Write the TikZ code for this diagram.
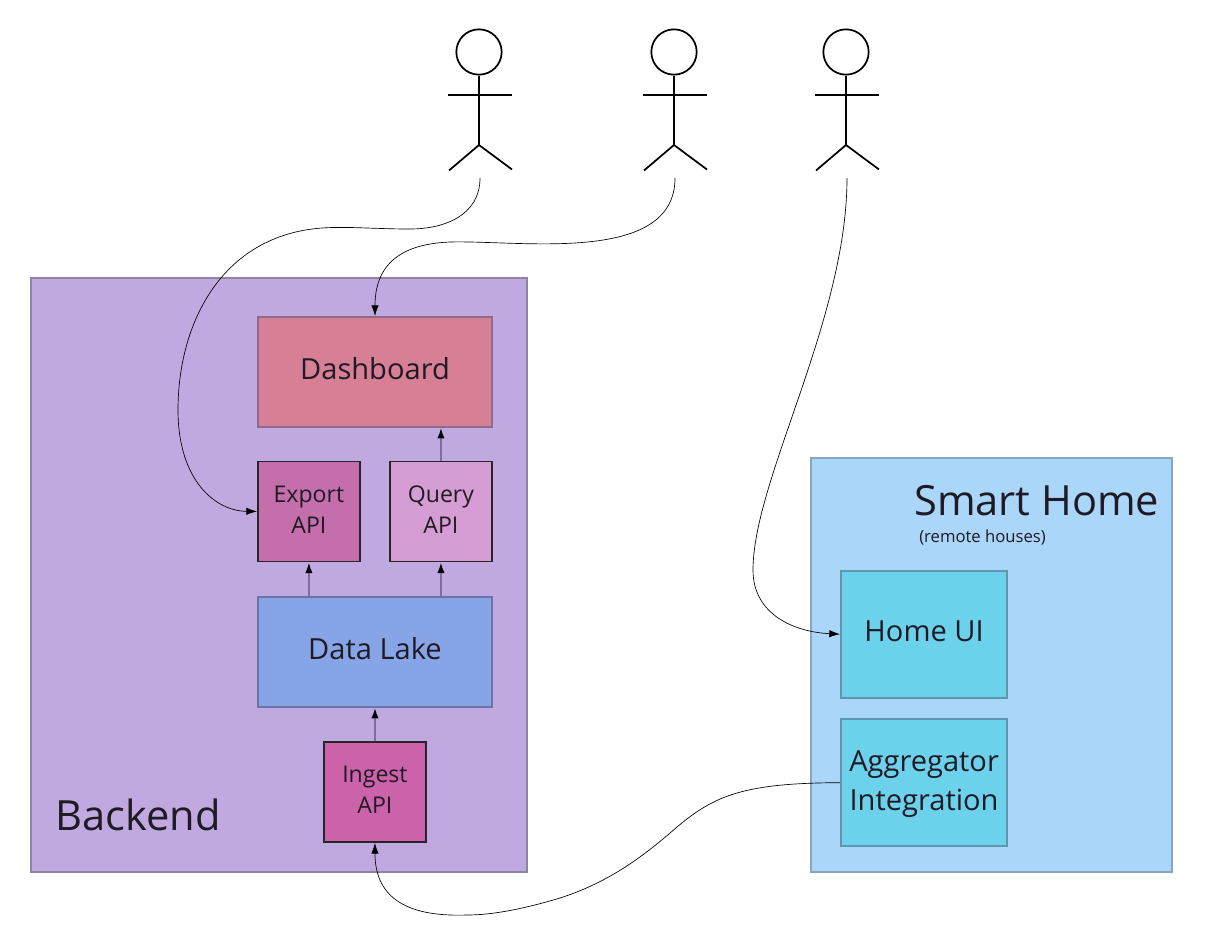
\documentclass[tikz,border=0pt]{standalone}
\usepackage{fontspec}
\setmainfont{Open Sans}
\usetikzlibrary{arrows.meta,positioning}
\definecolor{txt}{HTML}{1F1A24}
\definecolor{backline}{HTML}{8F83A5}
\definecolor{homeline}{HTML}{8AA6BE}
\definecolor{dashline}{HTML}{906A8C}
\definecolor{lakeline}{HTML}{6B75A5}
\definecolor{cyanline}{HTML}{5B98AE}
\definecolor{flowline}{HTML}{7D6E9E}
\newcommand{\liftline}[2]{\raisebox{#1}[\height][\depth]{#2}}
\tikzset{
  px/.style={x=0.75pt,y=-0.75pt},
  box/.style={draw=#1,line width=1.5pt,inner sep=0pt,anchor=north west,align=center,text=txt,font=\fontsize{21.8}{29.3}\selectfont},
  raised/.style={text depth=5.1pt},
  apibox/.style={draw=black!85,line width=1.4pt,inner sep=0pt,anchor=north west,align=center,text=txt,minimum width=76.5pt,minimum height=75pt,font=\fontsize{17.3}{23.4}\selectfont},
  flow/.style={draw=flowline,line width=1.3pt,-{Latex[length=8pt,width=5.5pt,black]}},
  curve/.style={draw=black,line width=0.5pt,-{Latex[length=8pt,width=5.5pt,black]}},
  stick/.style={draw=black,line width=1.3pt},
  lbl/.style={text=txt,inner sep=0pt}
}
\begin{document}
\begin{tikzpicture}[px]
\useasboundingbox (0,0) rectangle (1213,928);
\fill[white] (0,0) rectangle (1213,928);
% containers
\node[box=backline,fill={rgb,255:red,192;green,169;blue,225},minimum width=372pt,minimum height=445.5pt] (backend) at (30.3,277) {};
\node[box=homeline,fill={rgb,255:red,170;green,214;blue,249},minimum width=270.7pt,minimum height=310.5pt] (home) at (810.3,457) {};
\node[lbl,font=\fontsize{31.2}{36}\selectfont,anchor=base west] (backendlbl) at (55,830) {Backend};
\node[lbl,font=\fontsize{31.2}{36}\selectfont,anchor=base west] (homelbl) at (914,515) {Smart Home};
\node[lbl,font=\fontsize{12.5}{14}\selectfont,anchor=base west] (remotelbl) at (919,542.7) {(remote houses)};
% boxes
\node[box=dashline,raised,fill={rgb,255:red,214;green,127;blue,149},minimum width=175.5pt,minimum height=82.3pt] (dash) at (257,316) {Dashboard};
\node[apibox,fill={rgb,255:red,196;green,111;blue,171}] (export) at (257,460.5) {\liftline{1.5pt}{Export}\\\liftline{1.5pt}{API}};
\node[apibox,fill={rgb,255:red,213;green,157;blue,211}] (query) at (389,460.5) {\liftline{1.5pt}{Query}\\\liftline{1.5pt}{API}};
\node[box=lakeline,raised,fill={rgb,255:red,134;green,164;blue,230},minimum width=175.5pt,minimum height=82.3pt] (lake) at (257,596) {Data Lake};
\node[apibox,fill={rgb,255:red,203;green,98;blue,170}] (ingest) at (323,741) {\liftline{1.5pt}{Ingest}\\\liftline{1.5pt}{API}};
\node[box=cyanline,raised,fill={rgb,255:red,108;green,210;blue,236},minimum width=124.6pt,minimum height=95.5pt] (ui) at (840,569.5) {Home UI};
\node[box=cyanline,fill={rgb,255:red,108;green,210;blue,236},minimum width=124.6pt,minimum height=95.5pt] (agg) at (840,718) {\liftline{-0.7pt}{Aggregator}\\\liftline{-0.7pt}{Integration}};
% flows
\draw[flow] (ingest.north) -- (lake.south);
\draw[flow] (lake.north -| export.north) -- (export.south);
\draw[flow] (lake.north -| query.north) -- (query.south);
\draw[flow] (query.north) -- (query.north |- dash.south);
% actors
\foreach \n/\x/\ax in {a/479/480,b/674/675,c/846/847}{
  \node[draw=black,line width=1.3pt,circle,minimum size=34pt,inner sep=0pt] (\n head) at (\x,52) {};
  \coordinate (\n hip) at (\x,145);
  \coordinate (\n arml) at (\x-31,95);
  \coordinate (\n armr) at (\x+33,95);
  \coordinate (\n legl) at (\x-30,170.5);
  \coordinate (\n legr) at (\x+33,169.5);
  \coordinate (\n foot) at (\ax,178);
  \draw[stick] (\n head.south) -- (\n hip);
  \draw[stick] (\n arml) -- (\n armr);
  \draw[stick] (\n legl) -- (\n hip) -- (\n legr);
}
% curves
\draw[curve] (afoot) .. controls (480,215) and (445,229) .. (410,229)
  .. controls (380,229) and (355,227) .. (335,227.5)
  .. controls (225,228) and (178,320) .. (178,410)
  .. controls (178,480) and (215,511) .. (export.west);
\draw[curve] (bfoot) .. controls (675,265) and (520,240) .. (450,242)
  .. controls (400,244) and (375,265) .. (dash.north);
\draw[curve] (cfoot) .. controls (847,320) and (753,480) .. (753,570)
  .. controls (753,615) and (795,632) .. (ui.west);
\draw[curve] (agg.west) .. controls (745,783) and (715,795) .. (677,827)
  .. controls (645,855) and (610,882) .. (560,898)
  .. controls (520,910) and (490,915) .. (467,915)
  .. controls (410,917) and (375,900) .. (ingest.south);
\end{tikzpicture}
\end{document}
